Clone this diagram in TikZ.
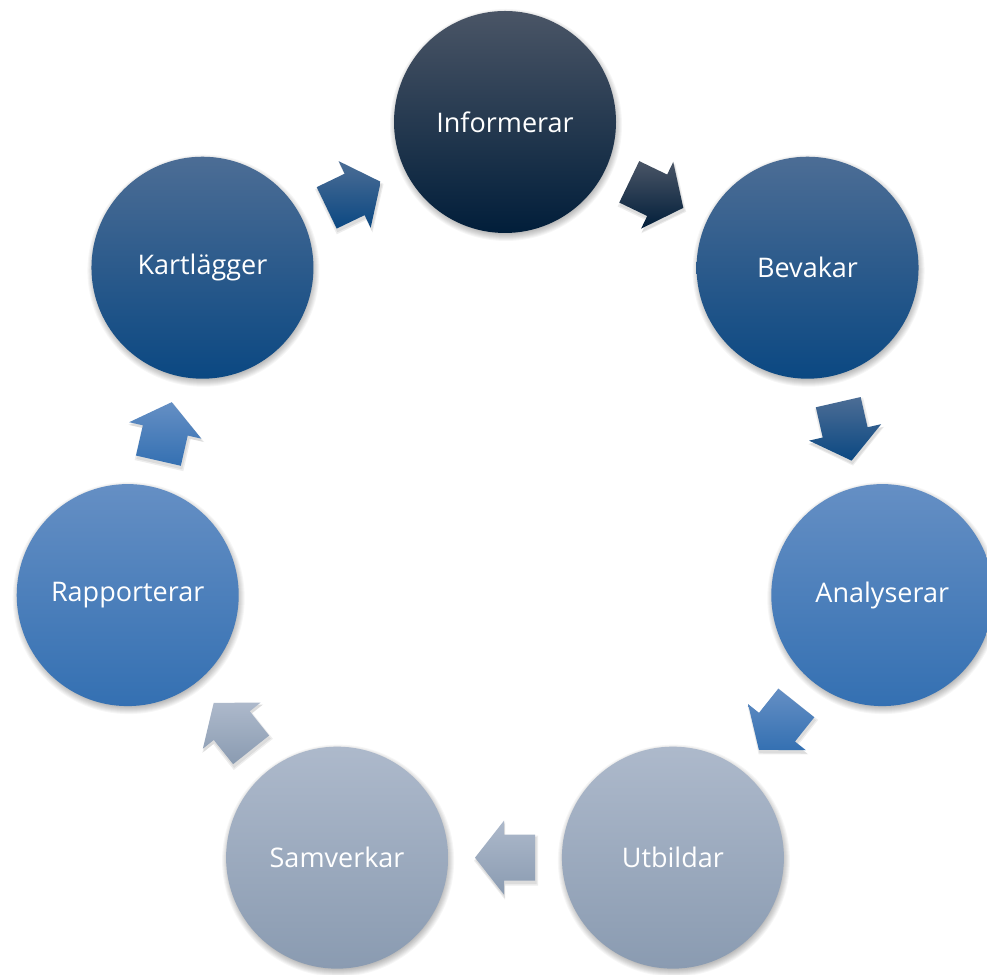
\documentclass[tikz,border=0pt]{standalone}
\usepackage{fontspec}
\setmainfont{Open Sans}
\usetikzlibrary{calc}
\definecolor{navyT}{HTML}{4A5566}
\definecolor{navyM}{HTML}{0A2541}
\definecolor{navyB}{HTML}{011E3A}
\definecolor{blueT}{HTML}{4C6D95}
\definecolor{blueM}{HTML}{1A5590}
\definecolor{blueB}{HTML}{0B4882}
\definecolor{lblueT}{HTML}{658FC4}
\definecolor{lblueM}{HTML}{447FC0}
\definecolor{lblueB}{HTML}{3470B2}
\definecolor{greyT}{HTML}{ADB9CB}
\definecolor{greyM}{HTML}{9DACC1}
\definecolor{greyB}{HTML}{8A9BB1}
\tikzset{
  circ/.style={circle, minimum size=222pt, inner sep=0pt, text=white,
    font=\fontsize{27}{31}\selectfont},
  navyfill/.style={top color=navyT, middle color=navyM, bottom color=navyB},
  bluefill/.style={top color=blueT, middle color=blueM, bottom color=blueB},
  lbluefill/.style={top color=lblueT, middle color=lblueM, bottom color=lblueB},
  greyfill/.style={top color=greyT, middle color=greyM, bottom color=greyB},
  shadowpart/.style={fill=black, opacity=0.035},
  arrshadow/.style={fill=black, opacity=0.07},
}
\newcommand\softshadow[1]{%
  \foreach \i in {0,...,7}{%
    \fill[shadowpart] ($(#1)+(1,-3)$) circle ({116-\i});}}
% arrow outline around midpoint (m) with direction #1, length 2*#2, body half width #3, head half width #4
\newcommand\arrowpath[4]{%
  ($(m)+({#1}:-#2)+({#1+90}:#3)$) -- ($(m)+({#1}:1)+({#1+90}:#3)$)
  -- ($(m)+({#1}:1)+({#1+90}:#4)$) -- ($(m)+({#1}:#2)$)
  -- ($(m)+({#1}:1)+({#1-90}:#4)$) -- ($(m)+({#1}:1)+({#1-90}:#3)$)
  -- ($(m)+({#1}:-#2)+({#1-90}:#3)$) -- cycle}
\newcommand\blockarrow[4]{%
  \coordinate (m) at ($(#1)!0.5!(#2)$);
  \begin{scope}[transform canvas={shift={(1pt,-3pt)}}]
    \fill[arrshadow] \arrowpath{#3}{32}{25}{39};
    \fill[arrshadow] \arrowpath{#3}{30.5}{23.5}{37.5};
  \end{scope}
  \path[#4] \arrowpath{#3}{30}{23}{37};}
\begin{document}
\begin{tikzpicture}[x=1pt, y=1pt]
  \useasboundingbox[fill=white] (0,0) rectangle (987,974);
  \coordinate (C) at (505,465);
  \coordinate (pinfo) at ($(C)+(90:387)$);
  \coordinate (pbev)  at ($(C)+(38.5714:387)$);
  \coordinate (pana)  at ($(C)+(-12.8571:387)$);
  \coordinate (putb)  at ($(C)+(-64.2857:387)$);
  \coordinate (psam)  at ($(C)+(-115.7143:387)$);
  \coordinate (prap)  at ($(C)+(-167.1429:387)$);
  \coordinate (pkart) at ($(C)+(141.4286:387)$);
  \foreach \p in {pinfo,pbev,pana,putb,psam,prap,pkart}{\softshadow{\p}}
  \node[circ, navyfill]  (info) at (pinfo) {Informerar};
  \node[circ, bluefill]  (bev)  at (pbev)  {Bevakar};
  \node[circ, lbluefill] (ana)  at (pana)  {Analyserar};
  \node[circ, greyfill]  (utb)  at (putb)  {Utbildar};
  \node[circ, greyfill]  (sam)  at (psam)  {Samverkar};
  \node[circ, lbluefill] (rap)  at (prap)  {Rapporterar};
  \node[circ, bluefill]  (kart) at (pkart) {Kartlägger};
  \blockarrow{info}{bev}{-25.7143}{navyfill}
  \blockarrow{bev}{ana}{-77.1429}{bluefill}
  \blockarrow{ana}{utb}{-128.5714}{lbluefill}
  \blockarrow{utb}{sam}{180}{greyfill}
  \blockarrow{sam}{rap}{128.5714}{greyfill}
  \blockarrow{rap}{kart}{77.1429}{lbluefill}
  \blockarrow{kart}{info}{25.7143}{bluefill}
\end{tikzpicture}
\end{document}
